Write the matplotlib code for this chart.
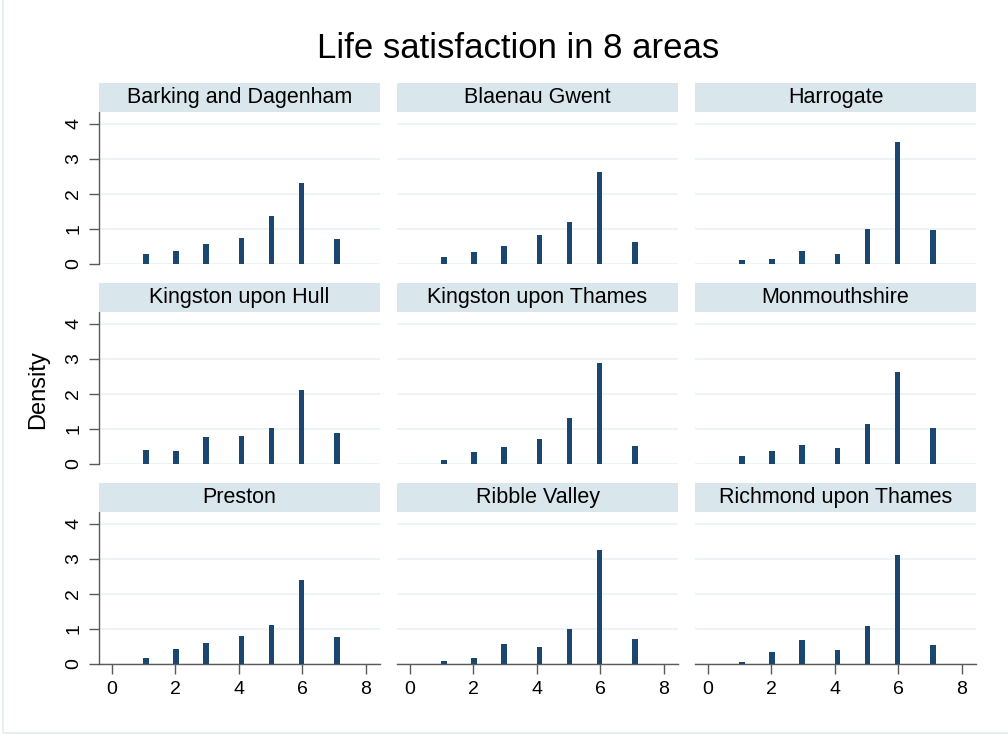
import matplotlib
matplotlib.use('Agg')
import matplotlib.pyplot as plt
from matplotlib.lines import Line2D

plt.rcParams['font.family'] = ['Liberation Sans', 'DejaVu Sans']

# ---- data ----
areas = ["Barking and Dagenham", "Blaenau Gwent", "Harrogate",
         "Kingston upon Hull", "Kingston upon Thames", "Monmouthshire",
         "Preston", "Ribble Valley", "Richmond upon Thames"]
bin_centers = [1.08, 2.03, 2.97, 4.08, 5.03, 5.97, 7.08]
barking = [0.28, 0.36, 0.57, 0.73, 1.36, 2.31, 0.70]
blaenau = [0.20, 0.33, 0.51, 0.81, 1.19, 2.63, 0.62]
harrogate = [0.10, 0.13, 0.36, 0.29, 0.98, 3.47, 0.95]
hull = [0.39, 0.36, 0.76, 0.79, 1.02, 2.12, 0.89]
kingston_thames = [0.11, 0.32, 0.49, 0.71, 1.30, 2.89, 0.50]
monmouthshire = [0.21, 0.35, 0.52, 0.45, 1.13, 2.62, 1.02]
preston = [0.15, 0.43, 0.58, 0.80, 1.12, 2.40, 0.77]
ribble = [0.08, 0.17, 0.56, 0.47, 0.99, 3.25, 0.70]
richmond = [0.06, 0.32, 0.69, 0.40, 1.09, 3.11, 0.54]
series = [barking, blaenau, harrogate, hull, kingston_thames, monmouthshire,
          preston, ribble, richmond]
yticks = [0, 1, 2, 3, 4]
xticks = [0, 2, 4, 6, 8]

W, H = 1008, 735
fig = plt.figure(figsize=(W / 100, H / 100), dpi=100)
fig.patch.set_facecolor('white')


def px_axes(x0, y0, x1, y1, **kw):
    return fig.add_axes([x0 / W, 1 - y1 / H, (x1 - x0) / W, (y1 - y0) / H], **kw)


bar_color = '#1a476f'
strip_color = '#d9e6eb'
grid_color = '#eaf2f3'
axis_color = '#5a5a5a'

col_left = [99, 397, 695]
pw = 281
strip_h = 29

for i, (name, vals) in enumerate(zip(areas, series)):
    r, c = divmod(i, 3)
    x0 = col_left[c]
    x1 = x0 + pw
    top = 112 + 200 * r
    bot = 264 + 200 * r
    ax = px_axes(x0, top, x1, bot)
    ax.bar(bin_centers, vals, width=0.175, color=bar_color, linewidth=0, zorder=3)
    ax.set_xlim(-0.40, 8.44)
    ax.set_ylim(-0.01, 4.34)
    ax.set_yticks(yticks)
    ax.set_xticks(xticks)
    ax.yaxis.grid(True, color=grid_color, linewidth=1.2, zorder=0)
    ax.set_axisbelow(True)
    for s in ax.spines.values():
        s.set_visible(False)
    if c == 0:
        ax.spines['left'].set_visible(True)
        ax.spines['left'].set_color(axis_color)
        ax.spines['left'].set_linewidth(1.0)
        ax.tick_params(axis='y', length=7, width=1.0, color=axis_color,
                       labelsize=14, pad=5)
        for lab in ax.get_yticklabels():
            lab.set_rotation(90)
            lab.set_va('center')
    else:
        ax.tick_params(axis='y', left=False, labelleft=False)
    if r == 2:
        ax.spines['bottom'].set_visible(True)
        ax.spines['bottom'].set_color(axis_color)
        ax.spines['bottom'].set_linewidth(1.0)
        ax.tick_params(axis='x', length=7, width=1.0, color=axis_color,
                       labelsize=14, pad=5)
    else:
        ax.tick_params(axis='x', bottom=False, labelbottom=False)

    sax = px_axes(x0, top - strip_h, x1, top)
    sax.set_facecolor(strip_color)
    sax.set_xticks([])
    sax.set_yticks([])
    for s in sax.spines.values():
        s.set_visible(False)
    sax.text(0.5, 0.5, name, ha='center', va='center', fontsize=15.5,
             transform=sax.transAxes, color='black')

fig.text(518 / W, 1 - 48 / H, "Life satisfaction in 8 areas", ha='center',
         va='center', fontsize=25, color='black')
fig.text(38 / W, 1 - 390 / H, "Density", ha='center', va='center',
         rotation=90, fontsize=17, color='black')

# outer light frame
fig.add_artist(Line2D([3 / W, 3 / W], [1 - 733 / H, 1], transform=fig.transFigure,
                      color='#e3eeee', linewidth=1.2))
fig.add_artist(Line2D([3 / W, 1], [1 - 733 / H, 1 - 733 / H], transform=fig.transFigure,
                      color='#e3eeee', linewidth=1.2))

fig.savefig('out.png', dpi=100, facecolor='white')
